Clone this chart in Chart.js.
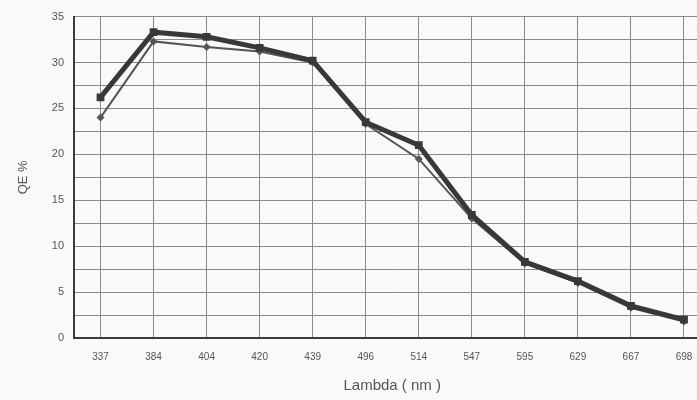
<!DOCTYPE html>
<html>
<head>
<meta charset="utf-8">
<title>QE vs Lambda</title>
<script src="https://cdn.jsdelivr.net/npm/chart.js@4.4.1/dist/chart.umd.min.js"></script>
<style>
    html, body {
        margin: 0;
        padding: 0;
        background: #f9f9f7;
        overflow: hidden;
    }
    #wrap {
        width: 716px;
        height: 400px;
    }
</style>
</head>
<body>

<div id="wrap">
    <canvas id="qeChart" width="716" height="400"></canvas>
</div>

<script>
/* ======================================
        Data
====================================== */

const wavelengths = ["337", "384", "404", "420", "439", "496", "514", "547", "595", "629", "667", "698"];

const qeSquare = [26.2, 33.3, 32.8, 31.6, 30.2, 23.5, 21.0, 13.4, 8.3, 6.2, 3.5, 2.0];

const qeDiamond = [24.0, 32.3, 31.7, 31.2, 30.0, 23.3, 19.5, 13.0, 8.1, 6.0, 3.3, 1.8];

const yTicks = [0, 5, 10, 15, 20, 25, 30, 35];

/* ======================================
        Chart
====================================== */

const ctx = document.getElementById("qeChart");

new Chart(ctx, {

    type: "line",

    data: {

        labels: wavelengths,

        datasets: [
            {
                label: "QE 1",
                data: qeSquare,
                borderColor: "#383838",
                backgroundColor: "#383838",
                borderWidth: 5,
                pointStyle: "rect",
                pointRadius: 5.5,
                pointBorderWidth: 0,
                tension: 0
            },
            {
                label: "QE 2",
                data: qeDiamond,
                borderColor: "#555555",
                backgroundColor: "#555555",
                borderWidth: 2,
                pointStyle: "rectRot",
                pointRadius: 4,
                pointBorderWidth: 0,
                tension: 0
            }
        ]

    },

    options: {

        responsive: false,
        animation: false,
        devicePixelRatio: 1,

        layout: {
            padding: { top: 12, right: 1, bottom: 0, left: 0 }
        },

        plugins: {
            legend: { display: false },
            tooltip: { enabled: false }
        },

        scales: {

            x: {
                offset: true,
                grid: {
                    offset: false,
                    color: "#8a8a8a",
                    lineWidth: 1,
                    drawTicks: false
                },
                border: {
                    color: "#3a3a3a",
                    width: 2
                },
                ticks: {
                    color: "#555",
                    padding: 13,
                    maxRotation: 0,
                    font: { family: "Liberation Sans", size: 10 }
                },
                title: {
                    display: true,
                    text: "Lambda ( nm )",
                    color: "#555",
                    padding: { top: 3, bottom: 5 },
                    font: { family: "Liberation Sans", size: 15 }
                },
                afterFit: scale => { scale.height = 62; }
            },

            y: {
                min: 0,
                max: 35,
                grid: {
                    color: "#8a8a8a",
                    lineWidth: 1,
                    drawTicks: false
                },
                border: {
                    color: "#3a3a3a",
                    width: 2
                },
                ticks: {
                    stepSize: 2.5,
                    color: "#555",
                    padding: 10,
                    font: { family: "Liberation Sans", size: 11 },
                    callback: v => yTicks.includes(v) ? v : ""
                },
                title: {
                    display: true,
                    text: "QE %",
                    color: "#555",
                    padding: { top: 16, bottom: 0 },
                    font: { family: "Liberation Sans", size: 13 }
                },
                afterFit: scale => { scale.width = 74; }
            }

        }

    }

});
</script>

</body>
</html>
